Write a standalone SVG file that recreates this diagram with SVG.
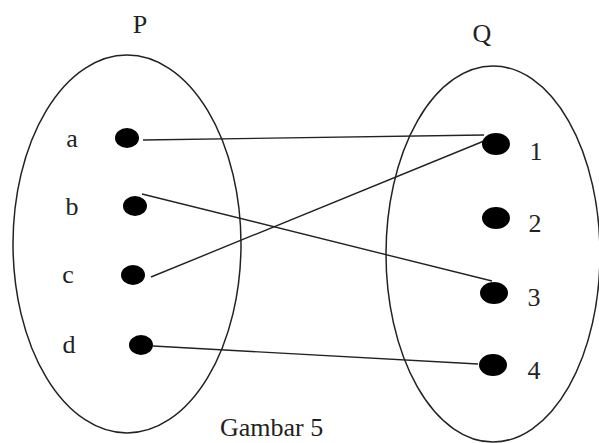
<svg xmlns="http://www.w3.org/2000/svg" width="599" height="443" viewBox="0 0 599 443">
<style>
.set{fill:none;stroke:#222;stroke-width:1.5}
.dot{fill:#000}
.t{font-family:"Liberation Serif",serif;font-size:26px;fill:#222}
.edge{stroke:#222;stroke-width:1.4;fill:none}
</style>
<rect width="599" height="443" fill="#fff"/>
<g id="setP">
<ellipse class="set" cx="127" cy="244" rx="114" ry="189"/>
<text class="t" x="140" y="33" text-anchor="middle">P</text>
</g>
<g id="setQ">
<ellipse class="set" cx="493" cy="254" rx="107" ry="188"/>
<text class="t" x="482" y="42" text-anchor="middle">Q</text>
</g>
<g id="connectors">
<line class="edge" x1="143" y1="140" x2="484" y2="135"/>
<line class="edge" x1="142" y1="194" x2="492" y2="281"/>
<line class="edge" x1="151" y1="277" x2="484" y2="141"/>
<line class="edge" x1="153" y1="346" x2="478" y2="364"/>
</g>
<g id="node-a"><ellipse class="dot" cx="127" cy="138" rx="12" ry="10"/><text class="t" x="72" y="147" text-anchor="middle">a</text></g>
<g id="node-b"><ellipse class="dot" cx="135" cy="206" rx="12" ry="10"/><text class="t" x="72" y="215" text-anchor="middle">b</text></g>
<g id="node-c"><ellipse class="dot" cx="133" cy="275" rx="12" ry="10"/><text class="t" x="68" y="283" text-anchor="middle">c</text></g>
<g id="node-d"><ellipse class="dot" cx="141" cy="345" rx="12" ry="10"/><text class="t" x="69" y="353" text-anchor="middle">d</text></g>
<g id="node-1"><ellipse class="dot" cx="496" cy="144" rx="14" ry="11"/><text class="t" x="536" y="160" text-anchor="middle">1</text></g>
<g id="node-2"><ellipse class="dot" cx="496" cy="218" rx="14" ry="11"/><text class="t" x="535" y="232" text-anchor="middle">2</text></g>
<g id="node-3"><ellipse class="dot" cx="494" cy="293" rx="14" ry="11"/><text class="t" x="534" y="306" text-anchor="middle">3</text></g>
<g id="node-4"><ellipse class="dot" cx="493" cy="365" rx="14" ry="11"/><text class="t" x="534" y="379" text-anchor="middle">4</text></g>
<text class="t" x="220" y="436" font-size="24">Gambar 5</text>
</svg>
